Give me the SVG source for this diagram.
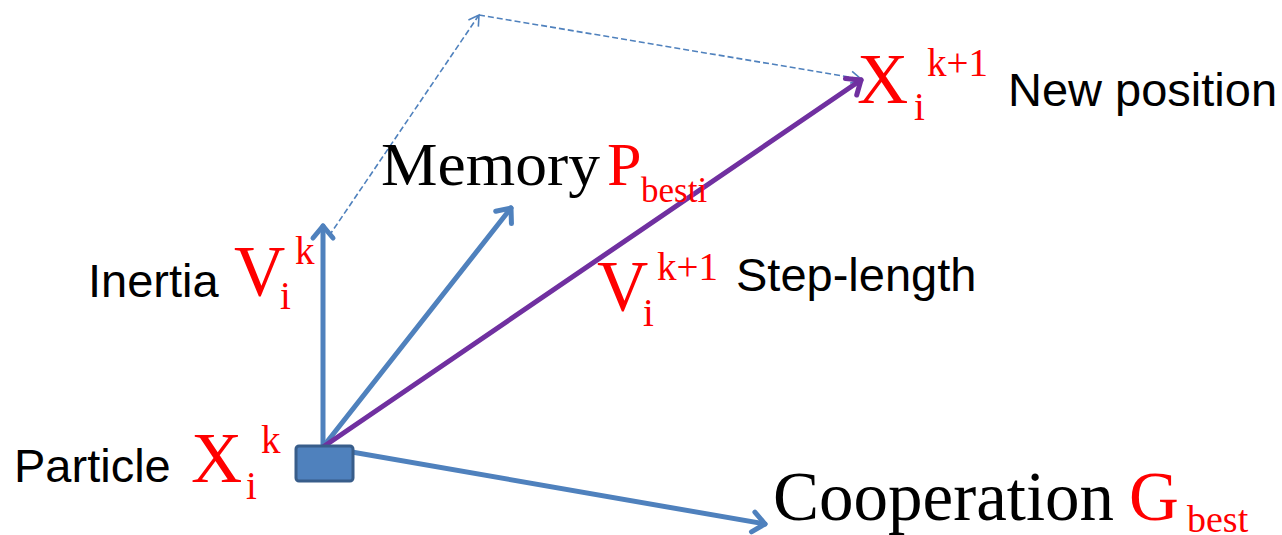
<svg xmlns="http://www.w3.org/2000/svg" width="1282" height="535" viewBox="0 0 1282 535">
<style>
.sans{font-family:"Liberation Sans",Arial,sans-serif;font-size:47px;fill:#000}
.serif{font-family:"Liberation Serif","Times New Roman",serif}
.red{fill:#FF0000}
.big{font-size:71px}
.sub{font-size:39px}
.blue{stroke:#4F81BD;stroke-width:5;fill:none;stroke-linecap:round}
.purple{stroke:#7030A0;stroke-width:5;fill:none;stroke-linecap:round}
.dash{stroke:#4F81BD;stroke-width:1.6;fill:none;stroke-dasharray:6 3}
</style>
<defs>
<marker id="ab" markerUnits="userSpaceOnUse" viewBox="-16 -13 20 26" refX="0" refY="0" markerWidth="20" markerHeight="26" orient="auto" overflow="visible">
<path d="M-12,-10 L0,0 L-12,10" fill="none" stroke="#4F81BD" stroke-width="5" stroke-linecap="round" stroke-linejoin="round"/>
</marker>
<marker id="ap" markerUnits="userSpaceOnUse" viewBox="-16 -13 20 26" refX="0" refY="0" markerWidth="20" markerHeight="26" orient="auto" overflow="visible">
<path d="M-12,-10 L0,0 L-12,10" fill="none" stroke="#7030A0" stroke-width="5" stroke-linecap="round" stroke-linejoin="round"/>
</marker>
<marker id="ad" markerUnits="userSpaceOnUse" viewBox="-12 -8 14 16" refX="0" refY="0" markerWidth="14" markerHeight="16" orient="auto" overflow="visible">
<path d="M-10,-6 L0,0 L-10,6" fill="none" stroke="#4F81BD" stroke-width="1.6"/>
</marker>
</defs>
<g id="connectors">
<line class="dash" x1="329" y1="236" x2="479" y2="15" marker-end="url(#ad)"/>
<line class="dash" x1="479" y1="15" x2="861" y2="79" marker-end="url(#ad)"/>
<line class="blue" x1="323" y1="447" x2="765" y2="524" marker-end="url(#ab)"/>
<line class="blue" x1="323" y1="447" x2="323" y2="226" marker-end="url(#ab)"/>
<line class="blue" x1="323" y1="447" x2="511" y2="208" marker-end="url(#ab)"/>
<line class="purple" x1="323" y1="447" x2="861" y2="80" marker-end="url(#ap)"/>
</g>
<g id="particle">
<rect x="296" y="446" width="57" height="35" rx="3" fill="#4F81BD" stroke="#385D8A" stroke-width="3"/>
<text class="sans" x="14" y="482">Particle</text>
<text class="serif red big" x="191" y="482">X</text>
<text class="serif red sub" x="246" y="499">i</text>
<text class="serif red sub" x="261" y="453">k</text>
</g>
<g id="inertia">
<text class="sans" x="88" y="297">Inertia</text>
<text class="serif red big" x="234" y="295">V</text>
<text class="serif red sub" x="280" y="309">i</text>
<text class="serif red sub" x="295" y="264">k</text>
</g>
<g id="memory">
<text class="serif" x="381" y="185" font-size="61" textLength="219" lengthAdjust="spacingAndGlyphs">Memory</text>
<text class="serif red" x="607" y="185" font-size="62">P</text>
<text class="serif red" x="641" y="202" font-size="35">besti</text>
</g>
<g id="steplength">
<text class="serif red big" x="597" y="310">V</text>
<text class="serif red sub" x="643" y="326">i</text>
<text class="serif red sub" x="657" y="280">k+1</text>
<text class="sans" x="736" y="291">Step-length</text>
</g>
<g id="newposition">
<text class="serif red big" x="857" y="103">X</text>
<text class="serif red sub" x="914" y="120">i</text>
<text class="serif red sub" x="927" y="76">k+1</text>
<text class="sans" x="1008" y="106">New position</text>
</g>
<g id="cooperation">
<text class="serif" x="773" y="520" font-size="69">Cooperation</text>
<text class="serif red" x="1129" y="520" font-size="69">G</text>
<text class="serif red" x="1187" y="532" font-size="38">best</text>
</g>
</svg>
